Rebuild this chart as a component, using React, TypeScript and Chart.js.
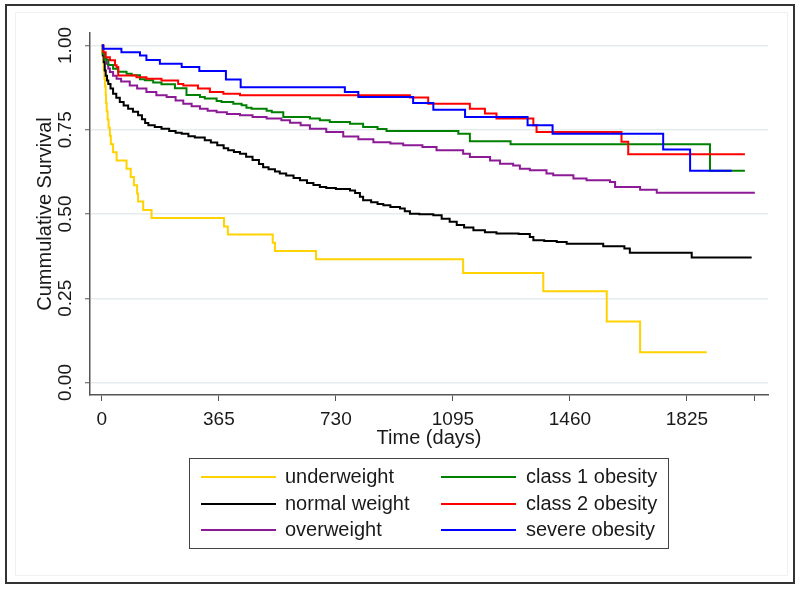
import React, { useEffect, useRef } from "react";
import { Chart, registerables } from "chart.js";

Chart.register(...registerables);

// ---- data (days, cumulative survival) ----
const underweightDays = [0, 2, 4, 6, 8, 10, 12, 13, 15, 18, 21, 25, 28, 35, 46, 77, 90, 100, 110, 113, 129, 155, 381, 393, 533, 540, 668, 1127, 1377, 1575, 1679, 1887];
const underweightSurv = [1.0, 0.976, 0.951, 0.927, 0.902, 0.878, 0.854, 0.829, 0.805, 0.78, 0.756, 0.732, 0.707, 0.683, 0.659, 0.634, 0.61, 0.585, 0.561, 0.537, 0.512, 0.488, 0.463, 0.439, 0.415, 0.39, 0.366, 0.325, 0.271, 0.181, 0.09, 0.09];

const normalDays = [0, 3, 6, 9, 12, 16, 20, 27, 35, 45, 56, 68, 82, 97, 113, 125, 135, 145, 165, 186, 210, 230, 249, 270, 290, 321, 340, 360, 380, 394, 412, 431, 450, 470, 490, 503, 520, 540, 555, 575, 598, 618, 640, 660, 680, 700, 730, 774, 790, 805, 815, 840, 860, 878, 900, 930, 945, 961, 990, 1034, 1060, 1085, 1107, 1130, 1159, 1195, 1231, 1300, 1335, 1346, 1380, 1419, 1450, 1564, 1630, 1647, 1840, 2027];
const normalSurv = [1.0, 0.97, 0.95, 0.926, 0.91, 0.896, 0.886, 0.872, 0.857, 0.845, 0.832, 0.822, 0.812, 0.803, 0.793, 0.781, 0.77, 0.763, 0.758, 0.753, 0.746, 0.741, 0.738, 0.731, 0.727, 0.719, 0.712, 0.704, 0.695, 0.689, 0.684, 0.679, 0.67, 0.66, 0.648, 0.639, 0.633, 0.626, 0.62, 0.614, 0.607, 0.6, 0.592, 0.586, 0.58, 0.577, 0.574, 0.57, 0.562, 0.551, 0.541, 0.535, 0.53, 0.526, 0.521, 0.516, 0.508, 0.501, 0.499, 0.496, 0.486, 0.477, 0.467, 0.46, 0.452, 0.446, 0.442, 0.441, 0.432, 0.422, 0.42, 0.417, 0.412, 0.404, 0.398, 0.385, 0.371, 0.371];

const overweightDays = [0, 4, 8, 15, 20, 25, 35, 46, 60, 87, 110, 139, 170, 202, 230, 254, 280, 306, 330, 358, 390, 431, 470, 514, 560, 587, 620, 649, 700, 753, 800, 847, 900, 940, 1000, 1044, 1127, 1148, 1211, 1242, 1283, 1304, 1335, 1387, 1408, 1471, 1512, 1585, 1601, 1679, 1731, 2037];
const overweightSurv = [1.0, 0.975, 0.96, 0.946, 0.932, 0.921, 0.91, 0.901, 0.893, 0.881, 0.872, 0.862, 0.852, 0.847, 0.837, 0.827, 0.82, 0.812, 0.806, 0.802, 0.797, 0.793, 0.788, 0.783, 0.778, 0.771, 0.763, 0.753, 0.743, 0.73, 0.722, 0.713, 0.709, 0.704, 0.699, 0.689, 0.679, 0.669, 0.659, 0.649, 0.644, 0.634, 0.63, 0.62, 0.615, 0.605, 0.6, 0.595, 0.58, 0.572, 0.563, 0.563];

const class1Days = [0, 3, 9, 20, 35, 51, 77, 93, 119, 134, 160, 186, 228, 264, 306, 321, 358, 373, 410, 436, 451, 467, 514, 530, 566, 649, 680, 711, 774, 815, 860, 888, 1112, 1148, 1275, 1897, 2006];
const class1Surv = [1.0, 0.975, 0.958, 0.942, 0.931, 0.922, 0.916, 0.912, 0.9, 0.897, 0.89, 0.885, 0.873, 0.853, 0.847, 0.843, 0.835, 0.832, 0.827, 0.823, 0.815, 0.812, 0.806, 0.802, 0.788, 0.783, 0.778, 0.773, 0.768, 0.758, 0.752, 0.746, 0.738, 0.716, 0.707, 0.628, 0.628];

const class2Days = [0, 5, 12, 25, 41, 46, 51, 108, 139, 186, 238, 254, 300, 337, 379, 431, 961, 1018, 1148, 1195, 1231, 1346, 1356, 1621, 1642, 2006];
const class2Surv = [1.0, 0.98, 0.965, 0.956, 0.941, 0.936, 0.911, 0.906, 0.901, 0.896, 0.886, 0.881, 0.872, 0.862, 0.857, 0.852, 0.846, 0.827, 0.812, 0.798, 0.783, 0.763, 0.743, 0.714, 0.677, 0.677];

const severeDays = [0, 4, 61, 119, 139, 181, 249, 304, 387, 433, 758, 800, 971, 1034, 1133, 1328, 1406, 1751, 1835, 1965];
const severeSurv = [1.0, 0.99, 0.98, 0.97, 0.957, 0.946, 0.936, 0.924, 0.899, 0.876, 0.862, 0.847, 0.829, 0.809, 0.788, 0.763, 0.738, 0.691, 0.628, 0.628];

const seriesLabels = ["underweight", "normal weight", "overweight", "class 1 obesity", "class 2 obesity", "severe obesity"];
const seriesColors = ["#FFD200", "#000000", "#8C1A96", "#008000", "#FF0000", "#0000FF"];

const xTicks = [0, 365, 730, 1095, 1460, 1825, 2037];
const xTickLabels = ["0", "365", "730", "1095", "1460", "1825", ""];
const yTicks = [0, 0.25, 0.5, 0.75, 1.0];
const yTickLabels = ["0.00", "0.25", "0.50", "0.75", "1.00"];

const FONT = "'Liberation Sans', Arial, Helvetica, sans-serif";

function toPoints(days: number[], surv: number[]) {
  return days.map((d, i) => ({ x: d, y: surv[i] }));
}

const frameAndLegend = {
  id: "frameAndLegend",
  beforeDraw(chart: any) {
    const ctx = chart.ctx;
    ctx.save();
    ctx.fillStyle = "#ffffff";
    ctx.fillRect(0, 0, chart.width, chart.height);
    ctx.restore();
  },
  afterDraw(chart: any) {
    const ctx = chart.ctx;
    ctx.save();
    // faint inner box
    ctx.strokeStyle = "#eef2f2";
    ctx.lineWidth = 1;
    ctx.strokeRect(15.5, 12.5, 772, 563);
    // outer frame
    ctx.strokeStyle = "#333333";
    ctx.lineWidth = 2;
    ctx.strokeRect(6, 5, 788, 578);
    // legend box
    ctx.strokeStyle = "#444444";
    ctx.lineWidth = 1;
    ctx.strokeRect(189.5, 458.5, 479, 90);
    ctx.font = "20px " + FONT;
    ctx.textBaseline = "middle";
    ctx.fillStyle = "#1a1a1a";
    const rows = [477, 504, 530];
    for (let i = 0; i < seriesLabels.length; i++) {
      const col = i < 3 ? 0 : 1;
      const row = i % 3;
      const y = rows[row];
      const lx0 = col === 0 ? 201 : 441;
      const lx1 = col === 0 ? 276 : 516;
      const tx = col === 0 ? 285 : 526;
      ctx.strokeStyle = seriesColors[i];
      ctx.lineWidth = 2;
      ctx.beginPath();
      ctx.moveTo(lx0, y);
      ctx.lineTo(lx1, y);
      ctx.stroke();
      ctx.fillText(seriesLabels[i], tx, y);
    }
    ctx.restore();
  },
};

export default function App() {
  const canvasRef = useRef<HTMLCanvasElement | null>(null);

  useEffect(() => {
    if (!canvasRef.current) return;
    const seriesData = [
      toPoints(underweightDays, underweightSurv),
      toPoints(normalDays, normalSurv),
      toPoints(overweightDays, overweightSurv),
      toPoints(class1Days, class1Surv),
      toPoints(class2Days, class2Surv),
      toPoints(severeDays, severeSurv),
    ];
    const datasets = seriesData.map((data, i) => ({
      label: seriesLabels[i],
      data,
      borderColor: seriesColors[i],
      backgroundColor: seriesColors[i],
      borderWidth: 2,
      pointRadius: 0,
      stepped: true as const,
      fill: false,
      order: seriesLabels.length - 1 - i,
    }));

    const chart = new Chart(canvasRef.current, {
      type: "line",
      data: { datasets },
      options: {
        animation: false,
        responsive: false,
        devicePixelRatio: 1,
        layout: { padding: { top: 33, right: 32, bottom: 139, left: 0 } },
        plugins: {
          legend: { display: false },
          tooltip: { enabled: false },
        },
        scales: {
          x: {
            type: "linear",
            min: -37,
            max: 2078,
            afterBuildTicks: (scale: any) => {
              scale.ticks = xTicks.map((v) => ({ value: v }));
            },
            afterFit: (scale: any) => {
              scale.height = 55;
            },
            ticks: {
              font: { family: FONT, size: 19 },
              color: "#1a1a1a",
              padding: 7,
              maxRotation: 0,
              autoSkip: false,
              callback: (value: any) => {
                const idx = xTicks.indexOf(Number(value));
                return idx >= 0 ? xTickLabels[idx] : "";
              },
            },
            grid: {
              drawOnChartArea: false,
              drawTicks: true,
              tickLength: 6,
              tickColor: "#555555",
              tickWidth: 1,
            },
            border: { display: true, color: "#555555", width: 1.5 },
            title: {
              display: true,
              text: "Time (days)",
              font: { family: FONT, size: 20 },
              color: "#1a1a1a",
              padding: { top: 0, bottom: 0 },
            },
          },
          y: {
            type: "linear",
            min: -0.037,
            max: 1.037,
            afterBuildTicks: (scale: any) => {
              scale.ticks = yTicks.map((v) => ({ value: v }));
            },
            afterFit: (scale: any) => {
              scale.width = 90;
            },
            ticks: {
              font: { family: FONT, size: 19 },
              color: "#1a1a1a",
              padding: 1,
              minRotation: 90,
              maxRotation: 90,
              crossAlign: "center",
              autoSkip: false,
              callback: (value: any) => {
                const idx = yTicks.indexOf(Number(value));
                return idx >= 0 ? yTickLabels[idx] : "";
              },
            },
            grid: {
              color: "#e4ecee",
              lineWidth: 1.5,
              drawTicks: true,
              tickLength: 5,
              tickColor: "#555555",
              tickWidth: 1,
            },
            border: { display: true, color: "#555555", width: 1.5 },
            title: {
              display: true,
              text: "Cummulative Survival",
              font: { family: FONT, size: 20 },
              color: "#1a1a1a",
              padding: { top: 33, bottom: 0 },
            },
          },
        },
      },
      plugins: [frameAndLegend],
    } as any);

    return () => chart.destroy();
  }, []);

  return (
    <div style={{ position: "fixed", left: 0, top: 0, width: 800, height: 589, background: "#fff" }}>
      <canvas ref={canvasRef} width={800} height={589} style={{ width: 800, height: 589, display: "block" }} />
    </div>
  );
}
